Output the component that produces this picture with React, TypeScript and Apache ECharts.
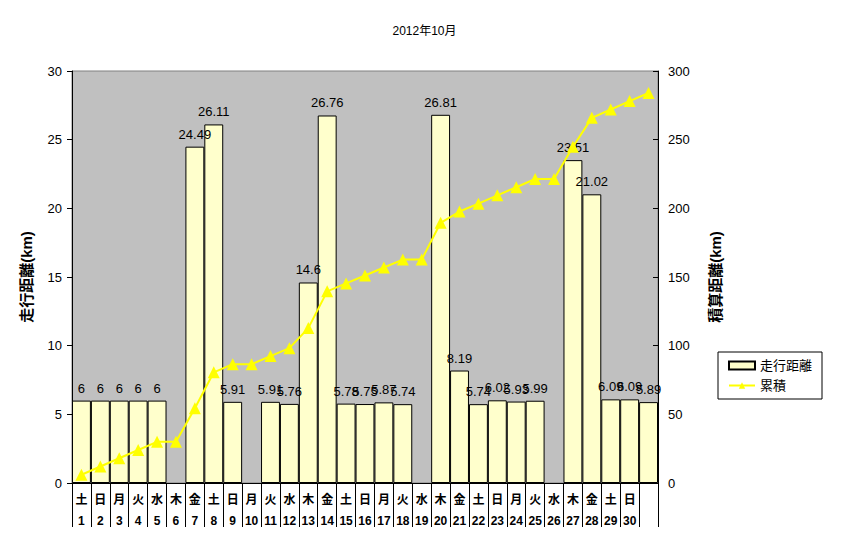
import React, { useEffect, useRef } from "react";
import * as echarts from "echarts";

const weekdays = ["土","日","月","火","水","木","金","土","日","月","火","水","木","金","土","日","月","火","水","木","金","土","日","月","火","水","木","金","土","日",""];
const days = ["1","2","3","4","5","6","7","8","9","10","11","12","13","14","15","16","17","18","19","20","21","22","23","24","25","26","27","28","29","30",""];
const distance: (number | null)[] = [6,6,6,6,6,null,24.49,26.11,5.91,null,5.91,5.76,14.6,26.76,5.78,5.75,5.87,5.74,null,26.81,8.19,5.74,6.02,5.93,5.99,null,23.51,21.02,6.09,6.09,5.89];
const cumulative = [6,12,18,24,30,30,54.49,80.6,86.51,86.51,92.42,98.18,112.78,139.54,145.32,151.07,156.94,162.68,162.68,189.49,197.68,203.42,209.44,215.37,221.36,221.36,244.87,265.89,271.98,278.07,283.96];

const FONT = "'Liberation Sans', 'Noto Sans CJK JP', sans-serif";

export default function App() {
  const ref = useRef<HTMLDivElement>(null);
  useEffect(() => {
    const chart = echarts.init(ref.current!, null, { renderer: "svg" });
    const categories = days.map((d, i) => `${weekdays[i]}\n${d}`);
    chart.setOption({
      animation: false,
      textStyle: { fontFamily: FONT },
      title: {
        text: "2012年10月",
        left: "center",
        top: 20,
        textStyle: { fontSize: 12, fontWeight: "normal", color: "#000", fontFamily: FONT },
      },
      grid: { left: 72, right: 191, top: 71, bottom: 64, show: true, backgroundColor: "#C0C0C0", borderColor: "#808080", borderWidth: 1 },
      legend: {
        orient: "vertical",
        left: 718,
        top: 352,
        padding: [7, 10, 7, 10],
        itemGap: 7,
        itemWidth: 26,
        itemHeight: 8,
        borderColor: "#000",
        borderWidth: 1,
        textStyle: { fontSize: 13, color: "#000", fontFamily: FONT },
        data: [{ name: "走行距離", icon: "rect" }, { name: "累積" }],
      },
      xAxis: {
        type: "category",
        data: categories,
        axisLine: { lineStyle: { color: "#000" } },
        axisTick: { show: true, length: 44, lineStyle: { color: "#000" }, alignWithLabel: false },
        axisLabel: {
          interval: 0,
          color: "#000",
          fontSize: 12,
          fontWeight: "bold",
          lineHeight: 21,
          margin: 6,
          fontFamily: FONT,
        },
      },
      yAxis: [
        {
          type: "value",
          min: 0,
          max: 30,
          interval: 5,
          name: "走行距離(km)",
          nameLocation: "middle",
          nameRotate: 90,
          nameGap: 38,
          nameTextStyle: { fontSize: 15, fontWeight: "bold", color: "#000", fontFamily: FONT },
          axisLine: { show: true, lineStyle: { color: "#000" } },
          axisTick: { show: true, length: 5, lineStyle: { color: "#000" } },
          axisLabel: { color: "#000", fontSize: 13, margin: 10, fontFamily: FONT },
          splitLine: { show: false },
        },
        {
          type: "value",
          min: 0,
          max: 300,
          interval: 50,
          name: "積算距離(km)",
          nameLocation: "middle",
          nameRotate: 90,
          nameGap: 50,
          nameTextStyle: { fontSize: 15, fontWeight: "bold", color: "#000", fontFamily: FONT },
          axisLine: { show: true, lineStyle: { color: "#000" } },
          axisTick: { show: true, inside: true, length: 5, lineStyle: { color: "#000" } },
          axisLabel: { color: "#000", fontSize: 13, margin: 10, fontFamily: FONT },
          splitLine: { show: false },
        },
      ],
      series: [
        {
          name: "走行距離",
          type: "bar",
          data: distance,
          barCategoryGap: "0%",
          itemStyle: { color: "#FFFFCC", borderColor: "#000", borderWidth: 1 },
          label: { show: true, position: "top", distance: 6, color: "#000", fontSize: 13, fontFamily: FONT },
        },
        {
          name: "累積",
          type: "line",
          yAxisIndex: 1,
          data: cumulative,
          symbol: "triangle",
          symbolSize: 12,
          lineStyle: { color: "#FFFF00", width: 2 },
          itemStyle: { color: "#FFFF00" },
        },
      ],
    });
    return () => chart.dispose();
  }, []);
  return <div ref={ref} style={{ width: 849, height: 547, position: "absolute", left: 0, top: 0 }} />;
}
